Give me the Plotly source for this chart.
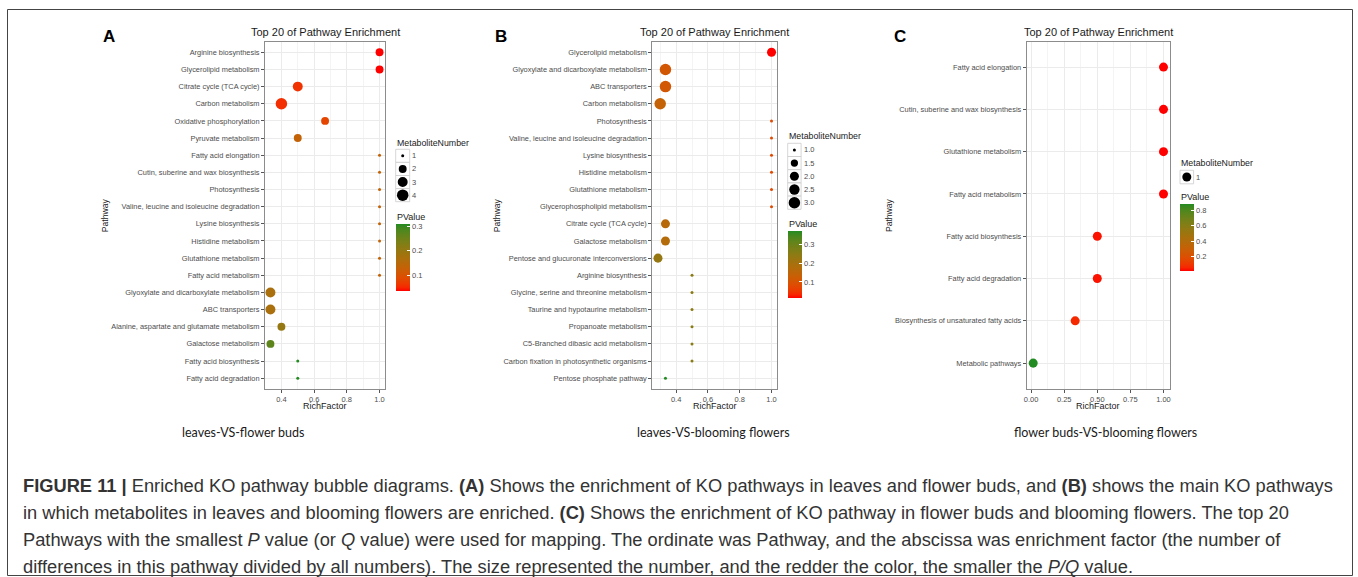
import math
import plotly.graph_objects as go

W, H = 1358, 577

# ---------------- Panel A: leaves vs flower buds ----------------
a_pathway = [
    "Arginine biosynthesis",
    "Glycerolipid metabolism",
    "Citrate cycle (TCA cycle)",
    "Carbon metabolism",
    "Oxidative phosphorylation",
    "Pyruvate metabolism",
    "Fatty acid elongation",
    "Cutin, suberine and wax biosynthesis",
    "Photosynthesis",
    "Valine, leucine and isoleucine degradation",
    "Lysine biosynthesis",
    "Histidine metabolism",
    "Glutathione metabolism",
    "Fatty acid metabolism",
    "Glyoxylate and dicarboxylate metabolism",
    "ABC transporters",
    "Alanine, aspartate and glutamate metabolism",
    "Galactose metabolism",
    "Fatty acid biosynthesis",
    "Fatty acid degradation",
]
a_rich = [1.0, 1.0, 0.5, 0.4, 0.667, 0.5, 1.0, 1.0, 1.0, 1.0,
          1.0, 1.0, 1.0, 1.0, 0.333, 0.333, 0.4, 0.333, 0.5, 0.5]
a_count = [2, 2, 3, 4, 2, 2, 1, 1, 1, 1, 1, 1, 1, 1, 3, 3, 2, 2, 1, 1]
a_pvalue = [0.035, 0.035, 0.058, 0.055, 0.08, 0.13, 0.135, 0.135, 0.135, 0.135,
            0.135, 0.135, 0.135, 0.135, 0.17, 0.17, 0.2, 0.265, 0.307, 0.307]
a_size_breaks = [1, 2, 3, 4]
a_size_labels = ["1", "2", "3", "4"]
a_p_ticks = [0.1, 0.2, 0.3]

# ---------------- Panel B: leaves vs blooming flowers ----------------
b_pathway = [
    "Glycerolipid metabolism",
    "Glyoxylate and dicarboxylate metabolism",
    "ABC transporters",
    "Carbon metabolism",
    "Photosynthesis",
    "Valine, leucine and isoleucine degradation",
    "Lysine biosynthesis",
    "Histidine metabolism",
    "Glutathione metabolism",
    "Glycerophospholipid metabolism",
    "Citrate cycle (TCA cycle)",
    "Galactose metabolism",
    "Pentose and glucuronate interconversions",
    "Arginine biosynthesis",
    "Glycine, serine and threonine metabolism",
    "Taurine and hypotaurine metabolism",
    "Propanoate metabolism",
    "C5-Branched dibasic acid metabolism",
    "Carbon fixation in photosynthetic organisms",
    "Pentose phosphate pathway",
]
b_rich = [1.0, 0.333, 0.333, 0.3, 1.0, 1.0, 1.0, 1.0, 1.0, 1.0,
          0.333, 0.333, 0.286, 0.5, 0.5, 0.5, 0.5, 0.5, 0.5, 0.333]
b_count = [2, 3, 3, 3, 1, 1, 1, 1, 1, 1, 2, 2, 2, 1, 1, 1, 1, 1, 1, 1]
b_pvalue = [0.015, 0.11, 0.11, 0.14, 0.085, 0.085, 0.085, 0.085, 0.085, 0.085,
            0.165, 0.17, 0.23, 0.25, 0.25, 0.25, 0.25, 0.25, 0.25, 0.37]
b_size_breaks = [1.0, 1.5, 2.0, 2.5, 3.0]
b_size_labels = ["1.0", "1.5", "2.0", "2.5", "3.0"]
b_p_ticks = [0.1, 0.2, 0.3]

# ---------------- Panel C: flower buds vs blooming flowers ----------------
c_pathway = [
    "Fatty acid elongation",
    "Cutin, suberine and wax biosynthesis",
    "Glutathione metabolism",
    "Fatty acid metabolism",
    "Fatty acid biosynthesis",
    "Fatty acid degradation",
    "Biosynthesis of unsaturated fatty acids",
    "Metabolic pathways",
]
c_rich = [1.0, 1.0, 1.0, 1.0, 0.5, 0.5, 0.333, 0.016]
c_count = [1, 1, 1, 1, 1, 1, 1, 1]
c_pvalue = [0.008, 0.008, 0.008, 0.008, 0.03, 0.03, 0.06, 0.875]
c_size_breaks = [1]
c_size_labels = ["1"]
c_p_ticks = [0.2, 0.4, 0.6, 0.8]

subtitles = ["leaves-VS-flower buds", "leaves-VS-blooming flowers",
             "flower buds-VS-blooming flowers"]

caption_lines = [
    "<b>FIGURE 11 |</b> Enriched KO pathway bubble diagrams. <b>(A)</b> Shows the enrichment of KO pathways "
    "in leaves and flower buds, and <b>(B)</b> shows the main KO pathways",
    "in which metabolites in leaves and blooming flowers are enriched. <b>(C)</b> Shows the enrichment of KO "
    "pathway in flower buds and blooming flowers. The top 20",
    "Pathways with the smallest <i>P</i> value (or <i>Q</i> value) were used for mapping. The ordinate was "
    "Pathway, and the abscissa was enrichment factor (the number of",
    "differences in this pathway divided by all numbers). The size represented the number, and the redder "
    "the color, the smaller the <i>P/Q</i> value.",
]


# ---------------- helpers ----------------
def px(x):
    return x / W


def py(y):
    return 1 - y / H


def _hex_rgb(h):
    h = h.lstrip("#")
    return [int(h[i:i + 2], 16) / 255 for i in (0, 2, 4)]


def _to_lab(rgb):
    lin = [c / 12.92 if c <= 0.04045 else ((c + 0.055) / 1.055) ** 2.4 for c in rgb]
    r, g, b = lin
    x = (0.4124 * r + 0.3576 * g + 0.1805 * b) / 0.95047
    y = (0.2126 * r + 0.7152 * g + 0.0722 * b) / 1.0
    z = (0.0193 * r + 0.1192 * g + 0.9505 * b) / 1.08883

    def f(t):
        return t ** (1 / 3) if t > 0.008856 else 7.787 * t + 16 / 116

    fx, fy, fz = f(x), f(y), f(z)
    return [116 * fy - 16, 500 * (fx - fy), 200 * (fy - fz)]


def _from_lab(lab):
    L, a, b = lab
    fy = (L + 16) / 116
    fx = fy + a / 500
    fz = fy - b / 200

    def finv(t):
        return t ** 3 if t ** 3 > 0.008856 else (t - 16 / 116) / 7.787

    x, y, z = finv(fx) * 0.95047, finv(fy), finv(fz) * 1.08883
    r = 3.2406 * x - 1.5372 * y - 0.4986 * z
    g = -0.9689 * x + 1.8758 * y + 0.0415 * z
    bb = 0.0557 * x - 0.2040 * y + 1.0570 * z
    out = []
    for c in (r, g, bb):
        c = min(max(c, 0), 1)
        c = 12.92 * c if c <= 0.0031308 else 1.055 * c ** (1 / 2.4) - 0.055
        out.append(int(round(min(max(c, 0), 1) * 255)))
    return "rgb({},{},{})".format(*out)


def lab_gradient(low, high, n=21):
    l0, l1 = _to_lab(_hex_rgb(low)), _to_lab(_hex_rgb(high))
    stops = []
    for i in range(n):
        t = i / (n - 1)
        stops.append([t, _from_lab([l0[k] + (l1[k] - l0[k]) * t for k in range(3)])])
    return stops


COLORSCALE = lab_gradient("#FF0000", "#228B22")
D_MIN, D_MAX = 3.0, 11.5


def diameters(values, lo, hi):
    out = []
    for v in values:
        t = 0.5 if hi == lo else (v - lo) / (hi - lo)
        out.append(D_MIN + (D_MAX - D_MIN) * math.sqrt(t))
    return out


def expanded(vals):
    lo, hi = min(vals), max(vals)
    pad = 0.05 * (hi - lo)
    return [lo - pad, hi + pad]


FONT = "Liberation Sans, Arial, Helvetica, sans-serif"
GRID = "#EBEBEB"
TICK_FONT = dict(family=FONT, size=7.4, color="#4D4D4D")

panels = [
    dict(name="A", path=a_pathway, rich=a_rich, count=a_count, p=a_pvalue,
         breaks=a_size_breaks, blabels=a_size_labels, pticks=a_p_ticks,
         box=(265, 385, 42, 388.5), xt=[0.4, 0.6, 0.8, 1.0], xtfmt="{:.1f}",
         xminor=[0.3, 0.5, 0.7, 0.9], letter_x=109, ylab_x=105,
         leg_x=395.7, leg_title_y=142.7, key_top=149.3, key_h=13.1, key_w=14,
         pv_title_y=217.3, cb_top=224.3, sub_x=243),
    dict(name="B", path=b_pathway, rich=b_rich, count=b_count, p=b_pvalue,
         breaks=b_size_breaks, blabels=b_size_labels, pticks=b_p_ticks,
         box=(652.3, 777.2, 42, 388.5), xt=[0.4, 0.6, 0.8, 1.0], xtfmt="{:.1f}",
         xminor=[0.3, 0.5, 0.7, 0.9], letter_x=501, ylab_x=497,
         leg_x=787.7, leg_title_y=135.5, key_top=143.3, key_h=13.2, key_w=13.4,
         pv_title_y=224.3, cb_top=231, sub_x=713),
    dict(name="C", path=c_pathway, rich=c_rich, count=c_count, p=c_pvalue,
         breaks=c_size_breaks, blabels=c_size_labels, pticks=c_p_ticks,
         box=(1026.7, 1170, 41.7, 388.5), xt=[0.0, 0.25, 0.5, 0.75, 1.0], xtfmt="{:.2f}",
         xminor=[0.125, 0.375, 0.625, 0.875], letter_x=900, ylab_x=889,
         leg_x=1180, leg_title_y=163.3, key_top=170.3, key_h=13.5, key_w=13.6,
         pv_title_y=197.3, cb_top=204.3, sub_x=1105),
]

fig = go.Figure()
annotations = []
shapes = []


def text(x, y, s, size, color="#1A1A1A", xanchor="center", angle=0, family=FONT):
    annotations.append(dict(x=px(x), y=py(y), xref="paper", yref="paper", text=s,
                            showarrow=False, xanchor=xanchor, yanchor="middle",
                            textangle=angle, font=dict(family=family, size=size, color=color),
                            borderpad=0))


for i, pnl in enumerate(panels):
    sfx = "" if i == 0 else str(i + 1)
    x0, x1, y0, y1 = pnl["box"]
    lo, hi = min(pnl["count"]), max(pnl["count"])
    pmin, pmax = min(pnl["p"]), max(pnl["p"])
    n = len(pnl["path"])

    fig.add_trace(go.Scatter(
        x=pnl["rich"], y=pnl["path"], mode="markers",
        xaxis="x" + sfx, yaxis="y" + sfx, hoverinfo="skip", showlegend=False,
        marker=dict(
            size=diameters(pnl["count"], lo, hi), color=pnl["p"],
            colorscale=COLORSCALE, cmin=pmin, cmax=pmax, line=dict(width=0),
            opacity=1, showscale=True,
            colorbar=dict(
                x=px(pnl["leg_x"]), xanchor="left", y=py(pnl["cb_top"]), yanchor="top",
                len=67, lenmode="pixels", thickness=13.6, thicknessmode="pixels",
                xpad=0, ypad=0, outlinewidth=0, tickmode="array", tickvals=pnl["pticks"],
                ticktext=["{:g}".format(v) for v in pnl["pticks"]],
                ticks="inside", ticklen=3, tickcolor="white", tickwidth=1,
                tickfont=dict(family=FONT, size=7.5, color="#4D4D4D"),
            ),
        ),
    ))

    fig.layout["xaxis" + sfx] = dict(
        domain=[px(x0), px(x1)], range=expanded(pnl["rich"]), anchor="y" + sfx,
        tickmode="array", tickvals=pnl["xt"], ticktext=[pnl["xtfmt"].format(v) for v in pnl["xt"]],
        showgrid=True, gridcolor=GRID, gridwidth=1,
        minor=dict(tickmode="array", tickvals=pnl["xminor"], showgrid=True,
                   gridcolor="#F4F4F4", gridwidth=0.7, ticks=""),
        ticks="outside", ticklen=3, tickwidth=1, tickcolor="#555555",
        tickfont=dict(family=FONT, size=7.5, color="#4D4D4D"),
        showline=True, mirror=True, linecolor="#8C8C8C", linewidth=1, zeroline=False,
        fixedrange=True,
    )
    fig.layout["yaxis" + sfx] = dict(
        domain=[py(y1), py(y0)], anchor="x" + sfx, type="category",
        categoryorder="array", categoryarray=list(reversed(pnl["path"])),
        range=[-0.6, n - 0.4], showgrid=True, gridcolor=GRID, gridwidth=1,
        ticks="outside", ticklen=3, tickwidth=1, tickcolor="#555555",
        tickfont=TICK_FONT, showline=True, mirror=True, linecolor="#8C8C8C",
        linewidth=1, zeroline=False, fixedrange=True,
    )

    cx = (x0 + x1) / 2
    text(cx, 32.3, "Top 20 of Pathway Enrichment", 11, "#1A1A1A")
    text(pnl["letter_x"], 36, "<b>" + pnl["name"] + "</b>", 17, "#000000")
    text(cx, 405.7, "RichFactor", 9, "#1A1A1A")
    text(pnl["ylab_x"], (y0 + y1) / 2, "Pathway", 8.6, "#1A1A1A", angle=-90)
    text(pnl["sub_x"], 432, subtitles[i], 12.5, "#1A1A1A", family="Lato, Calibri, sans-serif")

    # size legend
    lx = pnl["leg_x"]
    text(lx, pnl["leg_title_y"], "MetaboliteNumber", 8.8, "#1A1A1A", xanchor="left")
    kd = diameters(pnl["breaks"], min(pnl["breaks"]), max(pnl["breaks"]))
    for k, (lab, d) in enumerate(zip(pnl["blabels"], kd)):
        ky0 = pnl["key_top"] + k * pnl["key_h"]
        shapes.append(dict(type="rect", xref="paper", yref="paper",
                           x0=px(lx), x1=px(lx + pnl["key_w"]),
                           y0=py(ky0 + pnl["key_h"]), y1=py(ky0),
                           line=dict(color="#CCCCCC", width=0.8), fillcolor="white", layer="above"))
        kcx, kcy = lx + pnl["key_w"] / 2, ky0 + pnl["key_h"] / 2
        shapes.append(dict(type="circle", xref="paper", yref="paper",
                           xsizemode="pixel", ysizemode="pixel",
                           xanchor=px(kcx), yanchor=py(kcy),
                           x0=-d / 2, x1=d / 2, y0=-d / 2, y1=d / 2,
                           line=dict(width=0), fillcolor="black", layer="above"))
        text(lx + pnl["key_w"] + 1.8, kcy, lab, 7.5, "#4D4D4D", xanchor="left")

    text(lx, pnl["pv_title_y"], "PValue", 9, "#1A1A1A", xanchor="left")

# caption
for j, line in enumerate(caption_lines):
    text(22, 485 + j * 27, line, 18.3, "#333333", xanchor="left")

# outer frame
shapes.append(dict(type="rect", xref="paper", yref="paper",
                   x0=px(7.5), x1=px(1352.5), y0=py(575.5), y1=py(9.5),
                   line=dict(color="#444444", width=1), fillcolor="rgba(0,0,0,0)", layer="above"))

fig.update_layout(
    width=W, height=H, margin=dict(l=0, r=0, t=0, b=0),
    paper_bgcolor="white", plot_bgcolor="white", template="none",
    font=dict(family=FONT, color="#1A1A1A"),
    annotations=annotations, shapes=shapes, showlegend=False,
)

fig.write_html("out.html", config={"displayModeBar": False})
